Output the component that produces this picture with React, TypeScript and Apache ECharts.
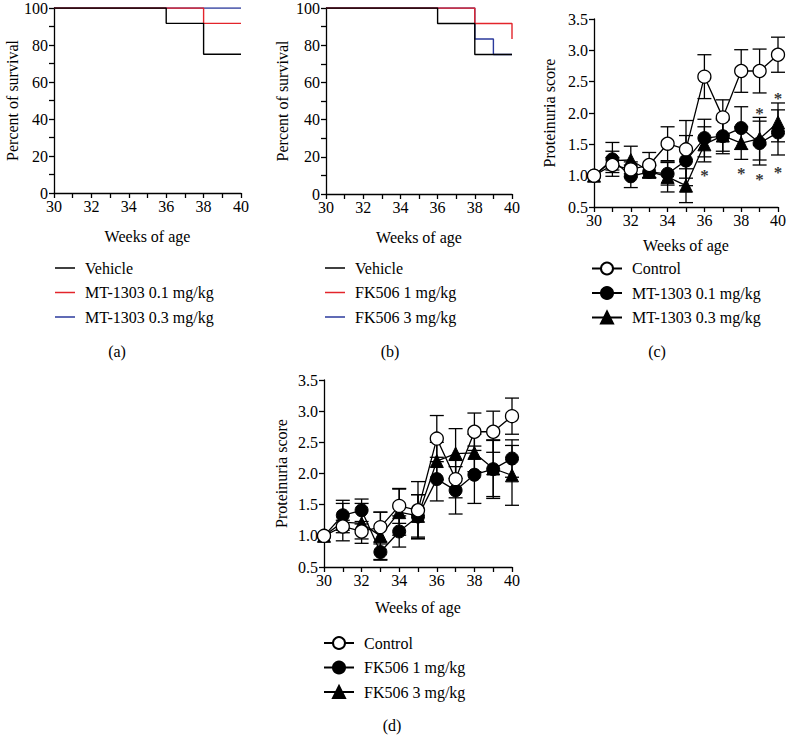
import React, { useEffect, useRef } from 'react';
import * as echarts from 'echarts';

const FONT = "'Liberation Serif', 'Times New Roman', serif";
const BLACK = '#000000';
const RED = '#e3242b';
const BLUE = '#2b3a9c';

const weeks = [30, 31, 32, 33, 34, 35, 36, 37, 38, 39, 40];

// (a) survival, percent
const survAVehicle = [[30, 100], [36, 91.7], [38, 75], [40, 75]];
const survAMT01 = [[30, 100], [38, 91.7], [40, 91.7]];
const survAMT03 = [[30, 100], [40, 100]];
// (b) survival, percent
const survBVehicle = [[30, 100], [36, 91.7], [38, 75], [40, 75]];
const survBFK1 = [[30, 100], [38, 91.7], [40, 83.3]];
const survBFK3 = [[30, 100], [38, 83.3], [39, 75], [40, 75]];

// (c) proteinuria score (mean, SEM)
const controlC = [1.0, 1.17, 1.1, 1.17, 1.51, 1.42, 2.58, 1.93, 2.67, 2.67, 2.93];
const controlCErr = [0, 0.12, 0.12, 0.2, 0.27, 0.46, 0.35, 0.28, 0.34, 0.35, 0.28];
const mt01C = [1.0, 1.26, 0.99, 1.06, 1.03, 1.24, 1.6, 1.63, 1.76, 1.52, 1.69];
const mt01CErr = [0, 0.27, 0.18, 0.1, 0.18, 0.4, 0.3, 0.28, 0.34, 0.35, 0.36];
const mt03C = [1.0, 1.24, 1.25, 1.07, 0.98, 0.84, 1.5, 1.64, 1.52, 1.59, 1.85];
const mt03CErr = [0, 0.15, 0.22, 0.1, 0.24, 0.27, 0.28, 0.25, 0.26, 0.34, 0.31];
const starsC = [[36, 1.06], [38, 1.1], [39, 1.01], [40, 1.12], [39, 2.05], [40, 2.29]];

// (d) proteinuria score (mean, SEM)
const controlD = [1.0, 1.15, 1.07, 1.14, 1.48, 1.41, 2.56, 1.91, 2.67, 2.67, 2.92];
const controlDErr = [0, 0.1, 0.12, 0.24, 0.28, 0.46, 0.37, 0.3, 0.3, 0.33, 0.29];
const fk1D = [1.0, 1.33, 1.41, 0.74, 1.07, 1.31, 1.91, 1.73, 1.98, 2.07, 2.24];
const fk1DErr = [0, 0.24, 0.18, 0.13, 0.25, 0.35, 0.35, 0.38, 0.46, 0.47, 0.3];
const fk3D = [1.0, 1.22, 1.2, 1.0, 1.38, 1.32, 2.2, 2.32, 2.33, 2.08, 1.97];
const fk3DErr = [0, 0.3, 0.32, 0.38, 0.37, 0.34, 0.3, 0.4, 0.3, 0.45, 0.48];

const legendA = ['Vehicle', 'MT-1303 0.1 mg/kg', 'MT-1303 0.3 mg/kg'];
const legendB = ['Vehicle', 'FK506 1 mg/kg', 'FK506 3 mg/kg'];
const legendC = ['Control', 'MT-1303 0.1 mg/kg', 'MT-1303 0.3 mg/kg'];
const legendD = ['Control', 'FK506 1 mg/kg', 'FK506 3 mg/kg'];
const survColors = [BLACK, RED, BLUE];

const FS = 16;
const txt = { fontFamily: FONT, fontSize: FS, color: BLACK };

function xAxisCfg(gridIndex: number, nameGap: number) {
  return {
    type: 'value', gridIndex, min: 30, max: 40, interval: 2,
    name: 'Weeks of age', nameLocation: 'middle', nameGap,
    nameTextStyle: { ...txt },
    axisLine: { lineStyle: { color: BLACK, width: 1.3 } },
    axisTick: { show: true, length: 5, lineStyle: { color: BLACK, width: 1.3 } },
    minorTick: { show: true, splitNumber: 2, length: 5, lineStyle: { color: BLACK, width: 1.3 } },
    axisLabel: { ...txt, margin: 5 },
    splitLine: { show: false },
    minorSplitLine: { show: false },
  };
}

function yAxisSurv(gridIndex: number, nameGap: number) {
  return {
    type: 'value', gridIndex, min: 0, max: 100, interval: 20,
    name: 'Percent of survival', nameLocation: 'middle', nameGap,
    nameTextStyle: { ...txt },
    axisLine: { show: true, lineStyle: { color: BLACK, width: 1.3 } },
    axisTick: { show: true, length: 5, lineStyle: { color: BLACK, width: 1.3 } },
    minorTick: { show: true, splitNumber: 2, length: 5, lineStyle: { color: BLACK, width: 1.3 } },
    axisLabel: { ...txt, margin: 6 },
    splitLine: { show: false },
    minorSplitLine: { show: false },
  };
}

function yAxisProt(gridIndex: number, nameGap: number) {
  return {
    type: 'value', gridIndex, min: 0.5, max: 3.5, interval: 0.5,
    name: 'Proteinuria score', nameLocation: 'middle', nameGap,
    nameTextStyle: { ...txt },
    axisLine: { show: true, lineStyle: { color: BLACK, width: 1.3 } },
    axisTick: { show: true, length: 5, lineStyle: { color: BLACK, width: 1.3 } },
    axisLabel: { ...txt, margin: 6, formatter: (v: number) => v.toFixed(1) },
    splitLine: { show: false },
  };
}

function stepSeries(name: string, idx: number, data: number[][], color: string, z: number) {
  return {
    type: 'line', name, xAxisIndex: idx, yAxisIndex: idx, data, step: 'end',
    symbol: 'none', color, lineStyle: { color, width: 1.4 }, z, silent: true,
  };
}

function protSeries(name: string, idx: number, means: number[], symbol: string, open: boolean, z: number) {
  return {
    type: 'line', name, xAxisIndex: idx, yAxisIndex: idx,
    data: weeks.map((w, i) => [w, means[i]]),
    symbol, symbolSize: 13,
    color: open ? '#ffffff' : BLACK,
    itemStyle: open ? { color: '#ffffff', borderColor: BLACK, borderWidth: 1.3 } : { color: BLACK, borderColor: BLACK, borderWidth: 1 },
    lineStyle: { color: BLACK, width: 1.3 }, z, silent: true,
  };
}

function errSeries(idx: number, means: number[], errs: number[]) {
  const data = weeks
    .map((w, i) => [w, means[i] - errs[i], means[i] + errs[i]])
    .filter((d) => d[2] - d[1] > 0);
  return {
    type: 'custom', xAxisIndex: idx, yAxisIndex: idx, z: 2, silent: true,
    encode: { x: 0, y: [1, 2] },
    data,
    renderItem: (_p: any, api: any) => {
      const x = api.value(0);
      const lo = api.coord([x, api.value(1)]);
      const hi = api.coord([x, api.value(2)]);
      const cw = 7;
      const st = { stroke: BLACK, lineWidth: 1.3 };
      return {
        type: 'group',
        children: [
          { type: 'line', shape: { x1: lo[0], y1: lo[1], x2: hi[0], y2: hi[1] }, style: st },
          { type: 'line', shape: { x1: lo[0] - cw, y1: lo[1], x2: lo[0] + cw, y2: lo[1] }, style: st },
          { type: 'line', shape: { x1: hi[0] - cw, y1: hi[1], x2: hi[0] + cw, y2: hi[1] }, style: st },
        ],
      };
    },
  };
}

function legendLine(names: string[], left: number, top: number) {
  return {
    data: names.map((n, i) => ({
      name: n, icon: 'rect',
      itemStyle: { color: survColors[i], borderColor: survColors[i], borderWidth: 0 },
    })),
    orient: 'vertical', left, top, padding: 0, itemGap: 8.5,
    itemWidth: 20, itemHeight: 1.5,
    selectedMode: false,
    textStyle: { ...txt, lineHeight: 16, padding: [0, 0, 0, 5] },
  };
}

function legendMarker(names: string[], left: number, top: number) {
  return {
    data: names,
    orient: 'vertical', left, top, padding: 0, itemGap: 8.5,
    itemWidth: 30, itemHeight: 15,
    selectedMode: false,
    textStyle: { ...txt, lineHeight: 16, padding: [0, 0, 0, 5] },
  };
}

const labelStyle = { fill: BLACK, font: `${FS}px ${FONT}`, textAlign: 'center', textVerticalAlign: 'middle' };

export default function App() {
  const ref = useRef<HTMLDivElement>(null);
  useEffect(() => {
    if (!ref.current) return;
    const chart = echarts.init(ref.current, null, { renderer: 'svg' });
    const option: any = {
      animation: false,
      backgroundColor: '#ffffff',
      textStyle: { fontFamily: FONT },
      grid: [
        { left: 54, top: 7, width: 187, height: 186 },
        { left: 326, top: 8, width: 186, height: 186 },
        { left: 594, top: 19, width: 187, height: 188 },
        { left: 324, top: 380, width: 188, height: 187 },
      ],
      xAxis: [xAxisCfg(0, 35), xAxisCfg(1, 35), xAxisCfg(2, 30), xAxisCfg(3, 32)],
      yAxis: [yAxisSurv(0, 34), yAxisSurv(1, 36), yAxisProt(2, 37), yAxisProt(3, 35)],
      legend: [
        legendLine(legendA, 55, 260),
        legendLine(legendB, 325, 260),
        legendMarker(legendC, 591, 260.5),
        legendMarker(legendD, 323, 635),
      ],
      series: [
        // proteinuria series first so that the marker legends use them
        errSeries(2, controlC, controlCErr),
        errSeries(2, mt01C, mt01CErr),
        errSeries(2, mt03C, mt03CErr),
        protSeries('Control', 2, controlC, 'circle', true, 5),
        protSeries('MT-1303 0.1 mg/kg', 2, mt01C, 'circle', false, 4),
        protSeries('MT-1303 0.3 mg/kg', 2, mt03C, 'triangle', false, 3),
        {
          type: 'scatter', xAxisIndex: 2, yAxisIndex: 2, data: starsC, symbolSize: 0,
          color: BLACK, itemStyle: { color: BLACK }, z: 6, silent: true,
          label: {
            show: true, formatter: '*', position: 'inside', fontFamily: FONT, fontSize: 17,
            fontWeight: 'bold', color: BLACK, textBorderWidth: 0, offset: [0, 4],
          },
        },
        errSeries(3, controlD, controlDErr),
        errSeries(3, fk1D, fk1DErr),
        errSeries(3, fk3D, fk3DErr),
        protSeries('Control', 3, controlD, 'circle', true, 5),
        protSeries('FK506 1 mg/kg', 3, fk1D, 'circle', false, 4),
        protSeries('FK506 3 mg/kg', 3, fk3D, 'triangle', false, 3),
        stepSeries('Vehicle', 0, survAVehicle, BLACK, 4),
        stepSeries('MT-1303 0.1 mg/kg', 0, survAMT01, RED, 3),
        stepSeries('MT-1303 0.3 mg/kg', 0, survAMT03, BLUE, 2),
        stepSeries('Vehicle', 1, survBVehicle, BLACK, 4),
        stepSeries('FK506 1 mg/kg', 1, survBFK1, RED, 3),
        stepSeries('FK506 3 mg/kg', 1, survBFK3, BLUE, 2),
      ],
      graphic: [
        { type: 'text', x: 117, y: 351, style: { text: '(a)', ...labelStyle } },
        { type: 'text', x: 390, y: 351, style: { text: '(b)', ...labelStyle } },
        { type: 'text', x: 657, y: 351, style: { text: '(c)', ...labelStyle } },
        { type: 'text', x: 392, y: 725, style: { text: '(d)', ...labelStyle } },
      ],
    };
    chart.setOption(option);
    return () => chart.dispose();
  }, []);
  return (
    <div
      ref={ref}
      style={{ position: 'fixed', left: 0, top: 0, width: 789, height: 748, background: '#fff' }}
    />
  );
}
